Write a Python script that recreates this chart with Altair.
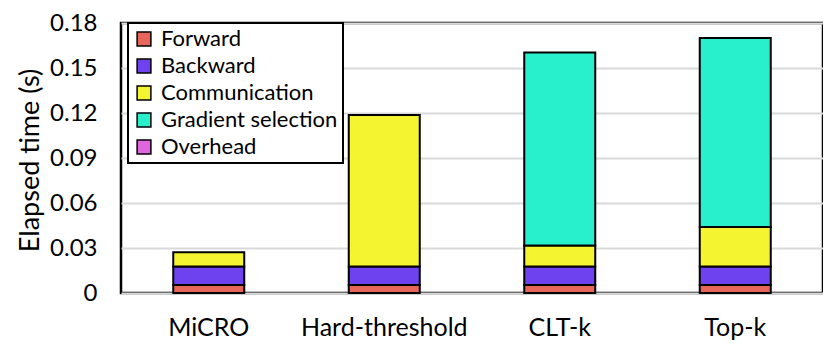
import altair as alt
import pandas as pd

methods = ["MiCRO", "Hard-threshold", "CLT-k", "Top-k"]
components = ["Forward", "Backward", "Communication", "Gradient selection", "Overhead"]
forward = [0.0053, 0.0053, 0.0053, 0.0053]
backward = [0.0123, 0.0123, 0.0123, 0.0123]
communication = [0.0096, 0.1011, 0.0141, 0.0264]
gradient_selection = [0.0, 0.0, 0.1286, 0.126]
overhead = [0.0, 0.0, 0.0, 0.0]
colors = ["#E8655A", "#6F42F0", "#F4F430", "#28F0CC", "#E066E0"]
y_ticks = [0, 0.03, 0.06, 0.09, 0.12, 0.15, 0.18]

series = [forward, backward, communication, gradient_selection, overhead]
rows = []
for ci, (comp, vals) in enumerate(zip(components, series)):
    for m, v in zip(methods, vals):
        rows.append({"method": m, "component": comp, "order": ci, "value": v})
df = pd.DataFrame(rows)

FONT = "Lato"
H = 270

chart = alt.Chart(df).transform_filter(
    alt.datum.value > 0
).mark_bar(size=71, stroke="black", strokeWidth=2).encode(
    x=alt.X("method:N", sort=methods,
            scale=alt.Scale(paddingInner=0, paddingOuter=0),
            axis=alt.Axis(title=None, labelAngle=0, labelFontSize=25, labelFont=FONT,
                          labelColor="black", ticks=False, domain=False,
                          labelPadding=22)),
    y=alt.Y("value:Q", stack="zero",
            scale=alt.Scale(domain=[0, 0.18], nice=False),
            axis=alt.Axis(title="Elapsed time (s)", values=y_ticks,
                          labelExpr="datum.value == 0 ? '0' : format(datum.value, '.2f')",
                          labelFontSize=24, labelFont=FONT, labelColor="black",
                          titleFontSize=27, titleFont=FONT, titleFontWeight="normal",
                          titleColor="black", titleX=-91, titleY=H / 2 + 2,
                          titleBaseline="middle", titleAngle=270,
                          ticks=False, domain=False, labelPadding=24,
                          grid=True, gridColor="#d9d9d9", gridWidth=2)),
    color=alt.Color("component:N",
                    scale=alt.Scale(domain=components, range=colors),
                    legend=alt.Legend(title=None, orient="none", legendX=7, legendY=0,
                                      labelFont=FONT, labelFontSize=22, labelColor="black",
                                      labelLimit=400,
                                      symbolType="square", symbolSize=190,
                                      symbolStrokeColor="black", symbolStrokeWidth=1.5,
                                      symbolOpacity=1, rowPadding=5, labelOffset=6,
                                      strokeColor="black", padding=5,
                                      fillColor="white")),
    order=alt.Order("order:Q", sort="ascending"),
).properties(
    width=702, height=H,
    autosize=alt.AutoSizeParams(type="none"),
    padding={"left": 113, "top": 15, "right": 0, "bottom": 51},
).configure_view(
    stroke="black", strokeWidth=2.5
).configure_legend(
    symbolStrokeColor="black", strokeWidth=2
)

chart.save("out.html", embed_options={"renderer": "svg", "actions": False})
